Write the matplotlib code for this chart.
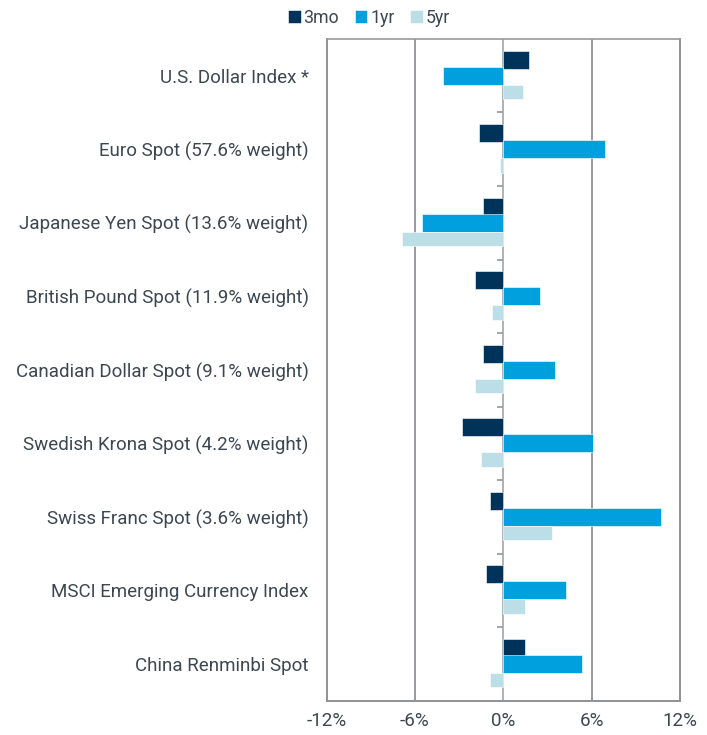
import numpy as np
import matplotlib
matplotlib.use('Agg')
import matplotlib.pyplot as plt

categories = [
    'U.S. Dollar Index *',
    'Euro Spot (57.6% weight)',
    'Japanese Yen Spot (13.6% weight)',
    'British Pound Spot (11.9% weight)',
    'Canadian Dollar Spot (9.1% weight)',
    'Swedish Krona Spot (4.2% weight)',
    'Swiss Franc Spot (3.6% weight)',
    'MSCI Emerging Currency Index',
    'China Renminbi Spot',
]
ret_3mo = [1.76, -1.67, -1.35, -1.9, -1.4, -2.8, -0.9, -1.17, 1.44]
ret_1yr = [-4.1, 6.88, -5.55, 2.46, 3.5, 6.12, 10.7, 4.29, 5.33]
ret_5yr = [1.35, -0.2, -6.86, -0.74, -1.92, -1.51, 3.32, 1.44, -0.9]
series_names = ['3mo', '1yr', '5yr']
colors = ['#003359', '#00a0df', '#bcdee6']
x_ticks = [-12, -6, 0, 6, 12]

plt.rcParams['font.family'] = ['Roboto', 'DejaVu Sans']
text_color = '#3c4752'
grid_color = '#8f9296'

fig = plt.figure(figsize=(7.07, 7.35), dpi=100)
ax = fig.add_axes([0.462, 0.0467, 0.4998, 0.9003])

y = np.arange(len(categories))
offsets = [-0.22, 0.0, 0.22]
heights = [0.245, 0.245, 0.195]
for vals, name, c, off, h in zip([ret_3mo, ret_1yr, ret_5yr], series_names, colors, offsets, heights):
    ax.barh(y + off, vals, height=h, color=c, label=name, zorder=3,
            edgecolor='white', linewidth=0.4)

# vertical grid lines
for t in [-6, 0, 6]:
    ax.axvline(t, color=grid_color if t != 0 else '#a9acb0', lw=1.3, zorder=2)

# small ticks on zero line between categories
for b in np.arange(0.5, len(categories) - 0.5, 1.0):
    ax.plot([-0.4, 0], [b, b], color='#9a9da1', lw=1.3, zorder=2, solid_capstyle='butt')

ax.set_xlim(-12, 12)
ax.set_ylim(len(categories) - 0.5, -0.5)
ax.set_yticks(y)
ax.set_yticklabels(categories)
ax.set_xticks(x_ticks)
ax.set_xticklabels([f'{t}%' for t in x_ticks])
ax.tick_params(axis='y', length=0, pad=13, labelsize=13.5, labelcolor=text_color)
ax.tick_params(axis='x', length=0, pad=8, labelsize=13.5, labelcolor=text_color)

for s in ['left', 'right', 'bottom']:
    ax.spines[s].set_color(grid_color)
    ax.spines[s].set_linewidth(1.4)
ax.spines['top'].set_color('#9a9a9a')
ax.spines['top'].set_linewidth(1.2)

leg = fig.legend(loc='upper center', bbox_to_anchor=(0.522, 1.01), ncol=3, frameon=False,
                 fontsize=12.8, handlelength=0.7, handleheight=0.7, handletextpad=0.15,
                 columnspacing=0.9)
for t in leg.get_texts():
    t.set_color(text_color)

fig.savefig('out.png', dpi=100)
